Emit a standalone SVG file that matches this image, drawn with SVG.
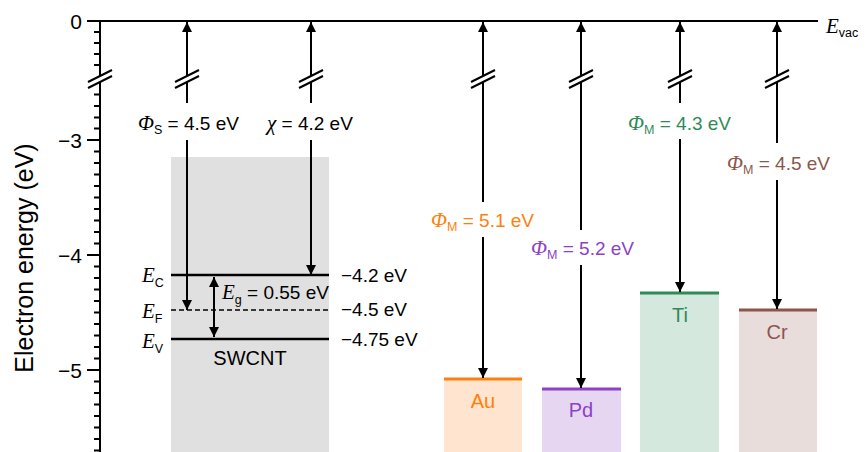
<svg xmlns="http://www.w3.org/2000/svg" width="868" height="452" viewBox="0 0 868 452">
<style>
.sans{font-family:"Liberation Sans",Arial,sans-serif;}
.ital{font-family:"Liberation Serif","Times New Roman",serif;font-style:italic;}
.lbl{font-size:19px;}
.sub{font-size:12.5px;font-family:"Liberation Sans",Arial,sans-serif;font-style:normal;}
.tick{stroke:#000;stroke-width:2;}
.arr{stroke:#000;stroke-width:2;fill:none;}
.brk{stroke:#000;stroke-width:2;}
</style>
<defs>
<marker id="ah" viewBox="0 0 10 10" refX="10" refY="5" markerWidth="10" markerHeight="10" markerUnits="userSpaceOnUse" orient="auto-start-reverse">
<path d="M0,0 L10,5 L0,10 z" fill="#000"/>
</marker>
</defs>
<rect width="868" height="452" fill="#fff"/>

<g id="swcnt">
<rect x="171" y="157" width="158" height="295" fill="#e0e0e0"/>
</g>

<g id="au">
<rect x="444" y="379" width="78" height="73" fill="#ffe5cf"/>
<line x1="444" y1="379" x2="522" y2="379" stroke="#ff7f0e" stroke-width="3"/>
<text class="sans" x="483" y="408" font-size="20" fill="#ff7f0e" text-anchor="middle">Au</text>
<text class="sans lbl" x="431" y="227" fill="#ff7f0e"><tspan class="ital" font-size="21">Φ</tspan><tspan class="sub" dy="4">M</tspan><tspan dy="-4"> = 5.1 eV</tspan></text>
</g>
<g id="pd">
<rect x="542" y="389" width="79" height="63" fill="#e6d6f1"/>
<line x1="542" y1="389" x2="621" y2="389" stroke="#8c42c8" stroke-width="3"/>
<text class="sans" x="581" y="417" font-size="20" fill="#8c42c8" text-anchor="middle">Pd</text>
<text class="sans lbl" x="531" y="255" fill="#8c42c8"><tspan class="ital" font-size="21">Φ</tspan><tspan class="sub" dy="4">M</tspan><tspan dy="-4"> = 5.2 eV</tspan></text>
</g>
<g id="ti">
<rect x="640" y="293" width="79" height="159" fill="#d5e8dd"/>
<line x1="640" y1="293" x2="719" y2="293" stroke="#2e8b57" stroke-width="3"/>
<text class="sans" x="680" y="322" font-size="20" fill="#2e8b57" text-anchor="middle">Ti</text>
<text class="sans lbl" x="628" y="130" fill="#2e8b57"><tspan class="ital" font-size="21">Φ</tspan><tspan class="sub" dy="4">M</tspan><tspan dy="-4"> = 4.3 eV</tspan></text>
</g>
<g id="cr">
<rect x="739" y="310" width="78" height="142" fill="#e8dddb"/>
<line x1="739" y1="310" x2="817" y2="310" stroke="#8c564b" stroke-width="3"/>
<text class="sans" x="777" y="339" font-size="20" fill="#8c564b" text-anchor="middle">Cr</text>
<text class="sans lbl" x="727" y="170" fill="#8c564b"><tspan class="ital" font-size="21">Φ</tspan><tspan class="sub" dy="4">M</tspan><tspan dy="-4"> = 4.5 eV</tspan></text>
</g>

<g id="axis">
<line x1="87" y1="21" x2="818" y2="21" stroke="#000" stroke-width="2"/>
<path class="tick" d="M100,20 V76 M100,82 V452"/>
<path class="tick" d="M87,21H100 M94,32H100 M94,43H100 M94,54H100 M94,65H100
M94,94.5H100 M94,106H100 M94,117.5H100 M94,128.5H100 M87,140H100
M94,151.5H100 M94,163H100 M94,174.5H100 M94,186H100 M94,197.5H100 M94,209H100 M94,220.5H100 M94,232H100 M94,243.5H100 M87,255H100
M94,266.5H100 M94,278H100 M94,289.5H100 M94,301H100 M94,312.5H100 M94,324H100 M94,335.5H100 M94,347H100 M94,358.5H100 M87,370H100
M94,381.5H100 M94,393H100 M94,404.5H100 M94,416H100 M94,427.5H100 M94,439H100 M94,450.5H100"/>
<path class="brk" d="M88,82 L112,70 M88,88 L112,76"/>
<g class="sans" font-size="21" text-anchor="end">
<text x="82" y="28.5">0</text>
<text x="82" y="147.5">−3</text>
<text x="82" y="262.5">−4</text>
<text x="82" y="377.5">−5</text>
</g>
<text class="sans" font-size="25" text-anchor="middle" transform="translate(33,258) rotate(-90)">Electron energy (eV)</text>
<text class="ital" x="826" y="33" font-size="21">E<tspan class="sub" dy="4">vac</tspan></text>
</g>

<g id="swcnt-levels">
<line x1="171" y1="275" x2="329" y2="275" stroke="#000" stroke-width="2.5"/>
<line x1="171" y1="310" x2="329" y2="310" stroke="#000" stroke-width="1.3" stroke-dasharray="5,3"/>
<line x1="171" y1="339" x2="329" y2="339" stroke="#000" stroke-width="2.5"/>
<text class="ital" x="142" y="282" font-size="21">E<tspan class="sub" dy="5">C</tspan></text>
<text class="ital" x="142" y="318" font-size="21">E<tspan class="sub" dy="5">F</tspan></text>
<text class="ital" x="142" y="348" font-size="21">E<tspan class="sub" dy="5">V</tspan></text>
<text class="sans lbl" x="341" y="281.5">−4.2 eV</text>
<text class="sans lbl" x="341" y="316">−4.5 eV</text>
<text class="sans lbl" x="341" y="345.5">−4.75 eV</text>
<text class="sans" x="250" y="365" font-size="20" text-anchor="middle">SWCNT</text>
<text class="sans lbl" x="222" y="299"><tspan class="ital" font-size="21">E</tspan><tspan class="sub" dy="5">g</tspan><tspan dy="-5"> = 0.55 eV</tspan></text>
<text class="sans lbl" x="138" y="130"><tspan class="ital" font-size="21">Φ</tspan><tspan class="sub" dy="4">S</tspan><tspan dy="-4"> = 4.5 eV</tspan></text>
<text class="sans lbl" x="267" y="130"><tspan class="ital" font-size="21">χ</tspan><tspan> = 4.2 eV</tspan></text>
</g>

<g id="connectors">
<g class="arr">
<path d="M187,76 V22" marker-end="url(#ah)"/>
<path d="M187,82 V103"/>
<path d="M187,140 V310" marker-end="url(#ah)"/>
<path d="M311,76 V22" marker-end="url(#ah)"/>
<path d="M311,82 V103"/>
<path d="M311,140 V275" marker-end="url(#ah)"/>
<path d="M483,76 V22" marker-end="url(#ah)"/>
<path d="M483,82 V202"/>
<path d="M483,237 V378" marker-end="url(#ah)"/>
<path d="M581,76 V22" marker-end="url(#ah)"/>
<path d="M581,82 V230"/>
<path d="M581,265 V388" marker-end="url(#ah)"/>
<path d="M680,76 V22" marker-end="url(#ah)"/>
<path d="M680,82 V103"/>
<path d="M680,139 V292" marker-end="url(#ah)"/>
<path d="M777,76 V22" marker-end="url(#ah)"/>
<path d="M777,82 V143"/>
<path d="M777,180 V309" marker-end="url(#ah)"/>
<path d="M214,277 V337" marker-start="url(#ah)" marker-end="url(#ah)"/>
</g>
<path class="brk" d="M175,82 L199,70 M175,88 L199,76 M299,82 L323,70 M299,88 L323,76 M471,82 L495,70 M471,88 L495,76 M569,82 L593,70 M569,88 L593,76 M668,82 L692,70 M668,88 L692,76 M765,82 L789,70 M765,88 L789,76"/>
</g>
</svg>
